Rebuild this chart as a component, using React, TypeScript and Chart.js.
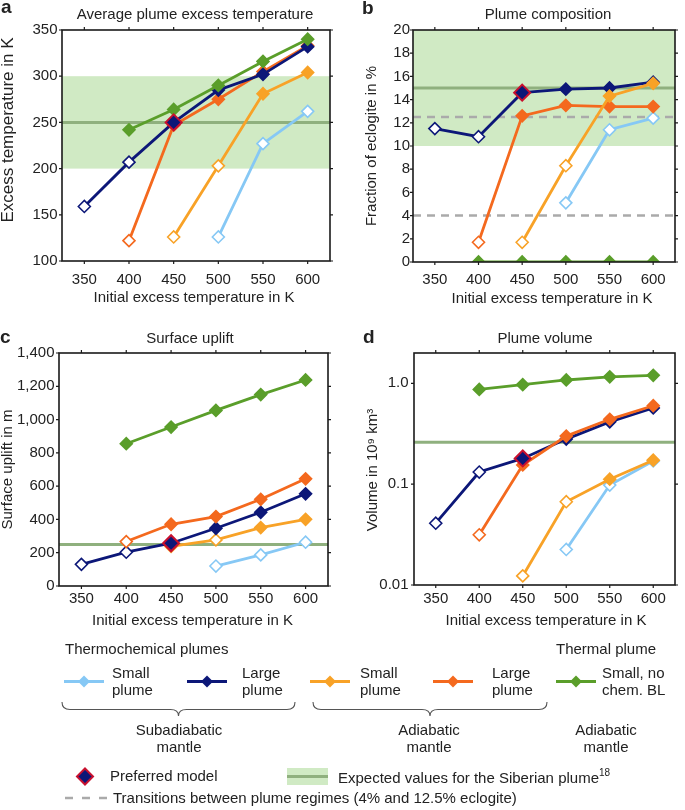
import React, { useEffect, useRef } from 'react';
import { Chart, registerables } from 'chart.js';
Chart.register(...registerables);

const FONT = '"Liberation Sans", Arial, Helvetica, sans-serif';
const TEXT = '#222222';
Chart.defaults.font.family = FONT;

// ---------- data ----------
const initialTemps = [350, 400, 450, 500, 550, 600];
const xTickLabels = ['350', '400', '450', '500', '550', '600'];

// a: average plume excess temperature (K)
const tempSubSmall = [null, null, null, 126, 227, 262];
const tempSubLarge = [159, 207, 250, 285, 302, 332];
const tempAdiSmall = [null, null, 126, 203, 281, 304];
const tempAdiLarge = [null, 122, 247, 275, 305, 333];
const tempThermal = [null, 242, 264, 290, 316, 340];
const tempTicks = [100, 150, 200, 250, 300, 350];
const tempTickLabels = ['100', '150', '200', '250', '300', '350'];
const tempBand = [200, 300];
const tempExpected = 250;

// b: fraction of eclogite (%)
const eclSubSmall = [null, null, null, 5.1, 11.4, 12.4];
const eclSubLarge = [11.5, 10.8, 14.6, 14.9, 15.0, 15.5];
const eclAdiSmall = [null, null, 1.7, 8.3, 14.3, 15.4];
const eclAdiLarge = [null, 1.7, 12.6, 13.5, 13.4, 13.4];
const eclThermal = [null, 0, 0, 0, 0, 0];
const eclTicks = [0, 2, 4, 6, 8, 10, 12, 14, 16, 18, 20];
const eclTickLabels = ['0', '2', '4', '6', '8', '10', '12', '14', '16', '18', '20'];
const eclBand = [10, 20];
const eclExpected = 15;
const eclTransitions = [4, 12.5];

// c: surface uplift (m)
const upSubSmall = [null, null, null, 120, 187, 263];
const upSubLarge = [130, 203, 257, 347, 443, 554];
const upAdiSmall = [null, null, 238, 277, 351, 401];
const upAdiLarge = [null, 267, 371, 417, 521, 644];
const upThermal = [null, 855, 955, 1055, 1150, 1238];
const upTicks = [0, 200, 400, 600, 800, 1000, 1200, 1400];
const upTickLabels = ['0', '200', '400', '600', '800', '1,000', '1,200', '1,400'];
const upExpected = 250;

// d: plume volume (10^9 km^3)
const volSubSmall = [null, null, null, 0.0225, 0.098, 0.17];
const volSubLarge = [0.041, 0.132, 0.18, 0.28, 0.415, 0.57];
const volAdiSmall = [null, null, 0.0123, 0.067, 0.112, 0.173];
const volAdiLarge = [null, 0.0315, 0.155, 0.3, 0.44, 0.6];
const volThermal = [null, 0.87, 0.97, 1.08, 1.16, 1.2];
const volTicks = [0.01, 0.1, 1];
const volTickLabels = ['0.01', '0.1', '1.0'];
const volExpected = 0.26;

// open (unfilled) markers per series
const openSubSmall = [false, false, false, true, true, true];
const openSubLarge = [true, true, false, false, false, false];
const openAdiSmall = [false, false, true, true, false, false];
const openAdiLarge = [false, true, false, false, false, false];
const openThermal = [false, false, false, false, false, false];
const preferredIndex = 2; // large plume, subadiabatic mantle, 450 K

// ---------- styles ----------
const C_SUBSMALL = '#86c8f5';
const C_SUBLARGE = '#0c1778';
const C_ADISMALL = '#f8a227';
const C_ADILARGE = '#f4691e';
const C_THERMAL = '#5a9e2a';
const C_PREF_BORDER = '#c8102e';
const C_BAND = '#d0eac4';
const C_EXPECTED = '#8fb07e';
const C_DASH = '#aaaaaa';

type Series = { values: (number | null)[]; color: string; open: boolean[] };

type PanelSpec = {
  left: number; top: number; width: number; height: number;
  area: { left: number; right: number; top: number; bottom: number };
  letter: string; letterX: number; letterBase: number;
  title: string; titleX: number; titleBase: number;
  yTitle: string; yTitleX: number; yTitleY: number; yTitleSize: number;
  xTitleX: number; xTitleY: number;
  yTickPad: number; xTickPad: number;
  yType: 'linear' | 'logarithmic'; yMin: number; yMax: number;
  yTicks: number[]; yLabels: string[];
  series: Series[]; // bottom -> top
  preferredValue: number;
  band?: number[]; expected: number; dashed?: number[];
};

const S = (values: (number | null)[], color: string, open: boolean[]): Series => ({ values, color, open });

const panels: PanelSpec[] = [
  {
    left: 0, top: 0, width: 345, height: 310,
    area: { left: 62, right: 330, top: 30, bottom: 261 },
    letter: 'a', letterX: 1, letterBase: 13,
    title: 'Average plume excess temperature', titleX: 195, titleBase: 18.5,
    yTitle: 'Excess temperature in K', yTitleX: 8.5, yTitleY: 130, yTitleSize: 17,
    xTitleX: 194, xTitleY: 297.5,
    yTickPad: 4.5, xTickPad: 9.5,
    yType: 'linear', yMin: 100, yMax: 350, yTicks: tempTicks, yLabels: tempTickLabels,
    series: [
      S(tempSubSmall, C_SUBSMALL, openSubSmall),
      S(tempAdiSmall, C_ADISMALL, openAdiSmall),
      S(tempAdiLarge, C_ADILARGE, openAdiLarge),
      S(tempSubLarge, C_SUBLARGE, openSubLarge),
      S(tempThermal, C_THERMAL, openThermal),
    ],
    preferredValue: tempSubLarge[preferredIndex] as number,
    band: tempBand, expected: tempExpected,
  },
  {
    left: 345, top: 0, width: 340, height: 310,
    area: { left: 68, right: 338, top: 30, bottom: 262 },
    letter: 'b', letterX: 17, letterBase: 13.5,
    title: 'Plume composition', titleX: 203, titleBase: 18.5,
    yTitle: 'Fraction of eclogite in %', yTitleX: 27, yTitleY: 146, yTitleSize: 15,
    xTitleX: 207, xTitleY: 298.5,
    yTickPad: 3, xTickPad: 8.5,
    yType: 'linear', yMin: 0, yMax: 20, yTicks: eclTicks, yLabels: eclTickLabels,
    series: [
      S(eclSubSmall, C_SUBSMALL, openSubSmall),
      S(eclAdiLarge, C_ADILARGE, openAdiLarge),
      S(eclSubLarge, C_SUBLARGE, openSubLarge),
      S(eclAdiSmall, C_ADISMALL, openAdiSmall),
      S(eclThermal, C_THERMAL, openThermal),
    ],
    preferredValue: eclSubLarge[preferredIndex] as number,
    band: eclBand, expected: eclExpected, dashed: eclTransitions,
  },
  {
    left: 0, top: 310, width: 345, height: 330,
    area: { left: 59, right: 328, top: 43, bottom: 276 },
    letter: 'c', letterX: 0, letterBase: 33,
    title: 'Surface uplift', titleX: 190, titleBase: 33.3,
    yTitle: 'Surface uplift in m', yTitleX: 7.5, yTitleY: 159.5, yTitleSize: 15,
    xTitleX: 192.5, xTitleY: 310.5,
    yTickPad: 4.5, xTickPad: 3.5,
    yType: 'linear', yMin: 0, yMax: 1400, yTicks: upTicks, yLabels: upTickLabels,
    series: [
      S(upSubSmall, C_SUBSMALL, openSubSmall),
      S(upAdiSmall, C_ADISMALL, openAdiSmall),
      S(upSubLarge, C_SUBLARGE, openSubLarge),
      S(upAdiLarge, C_ADILARGE, openAdiLarge),
      S(upThermal, C_THERMAL, openThermal),
    ],
    preferredValue: upSubLarge[preferredIndex] as number,
    expected: upExpected,
  },
  {
    left: 345, top: 310, width: 340, height: 330,
    area: { left: 69, right: 335, top: 43, bottom: 275 },
    letter: 'd', letterX: 18, letterBase: 33,
    title: 'Plume volume', titleX: 200, titleBase: 33.3,
    yTitle: 'Volume in 10\u2079 km\u00B3', yTitleX: 27.5, yTitleY: 160, yTitleSize: 15,
    xTitleX: 201, xTitleY: 310.5,
    yTickPad: 5.5, xTickPad: 5,
    yType: 'logarithmic', yMin: 0.01, yMax: 2, yTicks: volTicks, yLabels: volTickLabels,
    series: [
      S(volSubSmall, C_SUBSMALL, openSubSmall),
      S(volAdiSmall, C_ADISMALL, openAdiSmall),
      S(volSubLarge, C_SUBLARGE, openSubLarge),
      S(volAdiLarge, C_ADILARGE, openAdiLarge),
      S(volThermal, C_THERMAL, openThermal),
    ],
    preferredValue: volSubLarge[preferredIndex] as number,
    expected: volExpected,
  },
];

function Panel({ spec }: { spec: PanelSpec }) {
  const ref = useRef<HTMLCanvasElement>(null);
  useEffect(() => {
    const canvas = ref.current;
    if (!canvas) return;
    const n = spec.series.length;
    const datasets: any[] = spec.series.map((s, k) => {
      const pts: { x: number; y: number }[] = [];
      const fills: string[] = [];
      initialTemps.forEach((t, i) => {
        const v = s.values[i];
        if (v === null || v === undefined) return;
        pts.push({ x: t, y: v });
        fills.push(s.open[i] ? '#ffffff' : s.color);
      });
      return {
        data: pts,
        borderColor: s.color,
        borderWidth: 2.8,
        pointStyle: 'rectRot',
        pointRadius: 6,
        pointBackgroundColor: fills,
        pointBorderColor: s.color,
        pointBorderWidth: 1.6,
        tension: 0,
        clip: 0,
        order: n - k,
      };
    });
    datasets.push({
      data: [{ x: initialTemps[preferredIndex], y: spec.preferredValue }],
      showLine: false,
      pointStyle: 'rectRot',
      pointRadius: 8,
      pointBackgroundColor: C_SUBLARGE,
      pointBorderColor: C_PREF_BORDER,
      pointBorderWidth: 2,
      clip: 0,
      order: 0,
    });

    const bgPlugin = {
      id: 'bg' + spec.letter,
      beforeDatasetsDraw(chart: any) {
        const { ctx, chartArea: ca, scales } = chart;
        const y = scales.y;
        ctx.save();
        if (spec.band) {
          const p1 = Math.max(ca.top, y.getPixelForValue(spec.band[1]));
          const p0 = Math.min(ca.bottom, y.getPixelForValue(spec.band[0]));
          ctx.fillStyle = C_BAND;
          ctx.fillRect(ca.left, p1, ca.right - ca.left, p0 - p1);
        }
        const py = y.getPixelForValue(spec.expected);
        ctx.strokeStyle = C_EXPECTED;
        ctx.lineWidth = 3;
        ctx.beginPath();
        ctx.moveTo(ca.left, py);
        ctx.lineTo(ca.right, py);
        ctx.stroke();
        if (spec.dashed) {
          ctx.strokeStyle = C_DASH;
          ctx.lineWidth = 2.5;
          ctx.setLineDash([8, 6]);
          spec.dashed.forEach((v) => {
            const pd = y.getPixelForValue(v);
            ctx.beginPath();
            ctx.moveTo(ca.left, pd);
            ctx.lineTo(ca.right, pd);
            ctx.stroke();
          });
        }
        ctx.restore();
      },
    };

    const framePlugin = {
      id: 'frame' + spec.letter,
      afterDatasetsDraw(chart: any) {
        const { ctx, chartArea: ca, scales } = chart;
        ctx.save();
        ctx.strokeStyle = '#1a1a1a';
        ctx.lineWidth = 1.6;
        ctx.strokeRect(ca.left, ca.top, ca.right - ca.left, ca.bottom - ca.top);
        ctx.lineWidth = 1.2;
        const tl = 3;
        ctx.beginPath();
        initialTemps.forEach((t) => {
          const px = scales.x.getPixelForValue(t);
          ctx.moveTo(px, ca.bottom);
          ctx.lineTo(px, ca.bottom + tl);
          ctx.moveTo(px, ca.top);
          ctx.lineTo(px, ca.top - tl);
        });
        spec.yTicks.forEach((v) => {
          const py = scales.y.getPixelForValue(v);
          ctx.moveTo(ca.left, py);
          ctx.lineTo(ca.left - tl, py);
          ctx.moveTo(ca.right, py);
          ctx.lineTo(ca.right + tl, py);
        });
        ctx.stroke();
        ctx.restore();
      },
      afterDraw(chart: any) {
        const { ctx } = chart;
        ctx.save();
        ctx.fillStyle = TEXT;
        ctx.textAlign = 'left';
        ctx.textBaseline = 'alphabetic';
        ctx.font = `bold 19px ${FONT}`;
        ctx.fillText(spec.letter, spec.letterX, spec.letterBase);
        ctx.font = `15px ${FONT}`;
        ctx.textAlign = 'center';
        ctx.fillText(spec.title, spec.titleX, spec.titleBase);
        ctx.textBaseline = 'middle';
        ctx.fillText('Initial excess temperature in K', spec.xTitleX, spec.xTitleY);
        ctx.translate(spec.yTitleX, spec.yTitleY);
        ctx.rotate(-Math.PI / 2);
        ctx.font = `${spec.yTitleSize}px ${FONT}`;
        ctx.fillText(spec.yTitle, 0, 0);
        ctx.restore();
      },
    };

    const tickFont = { size: 15, family: FONT };
    const chart = new Chart(canvas, {
      type: 'line',
      data: { datasets },
      options: {
        animation: false,
        responsive: false,
        devicePixelRatio: 1,
        layout: { padding: { left: 0, right: spec.width - spec.area.right, top: spec.area.top, bottom: 0 } },
        plugins: { legend: { display: false }, tooltip: { enabled: false }, title: { display: false } },
        scales: {
          x: {
            type: 'linear',
            min: 325,
            max: 625,
            afterFit: (s: any) => { s.height = spec.height - spec.area.bottom; },
            afterBuildTicks: (s: any) => { s.ticks = initialTemps.map((v) => ({ value: v })); },
            ticks: {
              font: tickFont, color: TEXT, padding: spec.xTickPad, autoSkip: false, maxRotation: 0,
              callback: (_v: any, i: number) => xTickLabels[i],
            },
            grid: { display: false, drawTicks: false },
            border: { display: false },
          },
          y: {
            type: spec.yType,
            min: spec.yMin,
            max: spec.yMax,
            afterFit: (s: any) => { s.width = spec.area.left; },
            afterBuildTicks: (s: any) => { s.ticks = spec.yTicks.map((v) => ({ value: v })); },
            ticks: {
              font: tickFont, color: TEXT, padding: spec.yTickPad, autoSkip: false,
              callback: (_v: any, i: number) => spec.yLabels[i],
            },
            grid: { display: false, drawTicks: false },
            border: { display: false },
          },
        },
      } as any,
      plugins: [bgPlugin, framePlugin],
    });
    return () => chart.destroy();
  }, [spec]);
  return (
    <canvas
      ref={ref}
      width={spec.width}
      height={spec.height}
      style={{ position: 'absolute', left: spec.left, top: spec.top, width: spec.width, height: spec.height }}
    />
  );
}

// ---------- legend ----------
const legendItems = [
  { color: C_SUBSMALL, x0: 64, x1: 104, label: ['Small', 'plume'], tx: 112 },
  { color: C_SUBLARGE, x0: 187, x1: 227, label: ['Large', 'plume'], tx: 242 },
  { color: C_ADISMALL, x0: 310, x1: 350, label: ['Small', 'plume'], tx: 360 },
  { color: C_ADILARGE, x0: 433, x1: 473, label: ['Large', 'plume'], tx: 492 },
  { color: C_THERMAL, x0: 556, x1: 596, label: ['Small, no', 'chem. BL'], tx: 602 },
];
const legendGroups = [
  { x0: 62, x1: 295, label: ['Subadiabatic', 'mantle'], cx: 179 },
  { x0: 313, x1: 547, label: ['Adiabatic', 'mantle'], cx: 429 },
  { x0: 0, x1: 0, label: ['Adiabatic', 'mantle'], cx: 606 },
];

const diamond = (cx: number, cy: number, r: number) =>
  `${cx},${cy - r} ${cx + r},${cy} ${cx},${cy + r} ${cx - r},${cy}`;

const brace = (x0: number, x1: number) => {
  const cx = (x0 + x1) / 2;
  const yt = 702, yh = 709.5, yb = 716;
  return `M ${x0} ${yt} Q ${x0} ${yh} ${x0 + 8} ${yh} L ${cx - 8} ${yh} Q ${cx} ${yh} ${cx} ${yb} Q ${cx} ${yh} ${cx + 8} ${yh} L ${x1 - 8} ${yh} Q ${x1} ${yh} ${x1} ${yt}`;
};

const txt: React.CSSProperties = {
  position: 'absolute', fontSize: 15, lineHeight: '17px', color: TEXT, whiteSpace: 'nowrap', fontFamily: FONT,
};

function Legend() {
  const lineY = 681.5;
  return (
    <>
      <svg width={685} height={810} style={{ position: 'absolute', left: 0, top: 0, pointerEvents: 'none' }}>
        {legendItems.map((it, i) => (
          <g key={i}>
            <line x1={it.x0} y1={lineY} x2={it.x1} y2={lineY} stroke={it.color} strokeWidth={2.8} />
            <polygon points={diamond((it.x0 + it.x1) / 2, lineY, 6)} fill={it.color} />
          </g>
        ))}
        {legendGroups.filter((g) => g.x1 > 0).map((g, i) => (
          <path key={i} d={brace(g.x0, g.x1)} fill="none" stroke="#555" strokeWidth={1.1} />
        ))}
        <polygon points={diamond(85, 776.5, 8)} fill={C_SUBLARGE} stroke={C_PREF_BORDER} strokeWidth={2} />
        <rect x={287} y={768} width={41} height={17} fill={C_BAND} />
        <line x1={287} y1={776.5} x2={328} y2={776.5} stroke={C_EXPECTED} strokeWidth={3} />
        <line x1={65} y1={798} x2={108} y2={798} stroke={C_DASH} strokeWidth={2.5} strokeDasharray="8 9" />
      </svg>
      <div style={{ ...txt, left: 65, top: 640 }}>Thermochemical plumes</div>
      <div style={{ ...txt, left: 556, top: 640 }}>Thermal plume</div>
      {legendItems.map((it, i) => (
        <div key={i} style={{ ...txt, left: it.tx, top: 664.3 }}>
          {it.label[0]}<br />{it.label[1]}
        </div>
      ))}
      {legendGroups.map((g, i) => (
        <div key={i} style={{ ...txt, left: g.cx - 60, width: 120, textAlign: 'center', top: 721.3 }}>
          {g.label[0]}<br />{g.label[1]}
        </div>
      ))}
      <div style={{ ...txt, left: 110, top: 767 }}>Preferred model</div>
      <div style={{ ...txt, left: 338, top: 768.7 }}>
        Expected values for the Siberian plume
        <span style={{ fontSize: 10, verticalAlign: 'top', lineHeight: '10px', position: 'relative', top: -1 }}>18</span>
      </div>
      <div style={{ ...txt, left: 113, top: 788.7 }}>Transitions between plume regimes (4% and 12.5% eclogite)</div>
    </>
  );
}

export default function App() {
  return (
    <div style={{ position: 'absolute', left: 0, top: 0, width: 685, height: 810, background: '#ffffff', overflow: 'hidden' }}>
      {panels.map((p) => (
        <Panel key={p.letter} spec={p} />
      ))}
      <Legend />
    </div>
  );
}
